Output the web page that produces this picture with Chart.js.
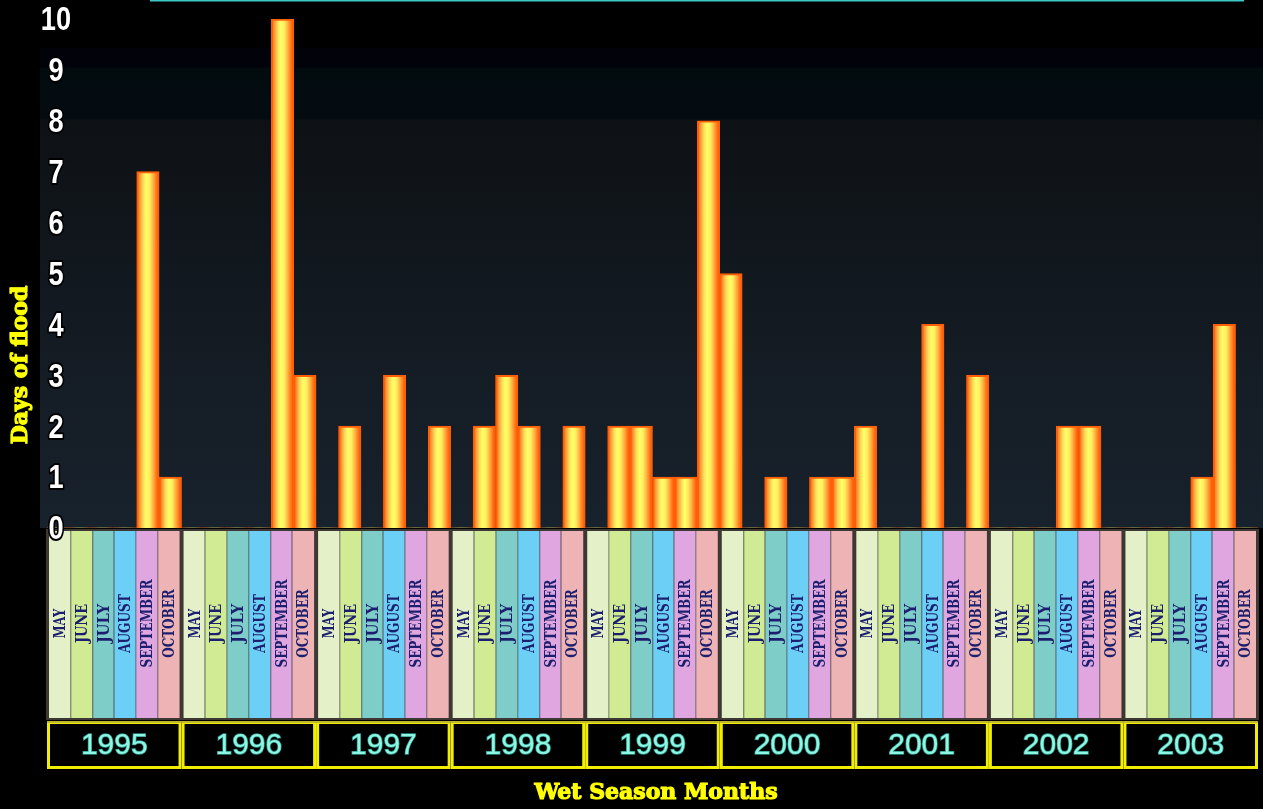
<!DOCTYPE html>
<html>
<head>
<meta charset="utf-8">
<title>Days of flood per wet season month, 1995–2003</title>
<script src="https://cdn.jsdelivr.net/npm/chart.js@4/dist/chart.umd.min.js"></script>
<style>
  html, body { margin: 0; padding: 0; background: #000; }
  #wrap { width: 1263px; height: 809px; }
  canvas { display: block; }
</style>
</head>
<body>
<div id="wrap"><canvas id="floods" width="1263" height="809"></canvas></div>
<script>
// Wet season months shown for every year
const months = ['MAY', 'JUNE', 'JULY', 'AUGUST', 'SEPTEMBER', 'OCTOBER'];
const years = ['1995', '1996', '1997', '1998', '1999', '2000', '2001', '2002', '2003'];

// Days of flood, one value per month (May..October)
const days1995 = [0, 0, 0, 0, 7, 1];
const days1996 = [0, 0, 0, 0, 10, 3];
const days1997 = [0, 2, 0, 3, 0, 2];
const days1998 = [0, 2, 3, 2, 0, 2];
const days1999 = [0, 2, 2, 1, 1, 8];
const days2000 = [5, 0, 1, 0, 1, 1];
const days2001 = [2, 0, 0, 4, 0, 3];
const days2002 = [0, 0, 0, 2, 2, 0];
const days2003 = [0, 0, 0, 1, 4, 0];

const yTickLabels = ['0', '1', '2', '3', '4', '5', '6', '7', '8', '9', '10'];

const monthColors = ['#e3f0c8', '#d0eb94', '#7ecdc8', '#6ccff6', '#e0a6e0', '#eeb3b5'];

const perYear = [days1995, days1996, days1997, days1998, days1999, days2000, days2001, days2002, days2003];
const labels = [];
years.forEach(y => months.forEach(m => labels.push(y + ' ' + m)));
const values = [].concat(...perYear);

const PLOT_BG_LEFT = 40;
const CELL_TOP = 529;
const CELL_BOTTOM = 720;
const YEAR_TOP = 721;
const YEAR_BOTTOM = 769;

function barGradient(context) {
  const chart = context.chart;
  const xs = chart.scales.x;
  if (!chart.chartArea || !xs) return '#ffb030';
  const w = xs.width / labels.length;
  const cx = xs.getPixelForValue(context.dataIndex);
  const g = chart.ctx.createLinearGradient(cx - w / 2, 0, cx + w / 2, 0);
  g.addColorStop(0.00, '#ff6200');
  g.addColorStop(0.12, '#ff9030');
  g.addColorStop(0.28, '#ffd858');
  g.addColorStop(0.42, '#ffff66');
  g.addColorStop(0.58, '#ffee60');
  g.addColorStop(0.74, '#ffb040');
  g.addColorStop(0.88, '#ff7418');
  g.addColorStop(1.00, '#ff5a00');
  return g;
}

// Dark banded backdrop behind the bars plus the thin cyan rule on top
const backdrop = {
  id: 'backdrop',
  beforeDraw(chart) {
    const ctx = chart.ctx;
    const area = chart.chartArea;
    ctx.save();
    ctx.fillStyle = '#000';
    ctx.fillRect(0, 0, chart.width, chart.height);
    const bottom = area.bottom;
    const g = ctx.createLinearGradient(0, 0, 0, bottom);
    g.addColorStop(0.000, '#000000');
    g.addColorStop(0.090, '#000000');
    g.addColorStop(0.092, '#02020b');
    g.addColorStop(0.127, '#02020b');
    g.addColorStop(0.129, '#020b0e');
    g.addColorStop(0.225, '#040c12');
    g.addColorStop(0.228, '#0e1114');
    g.addColorStop(0.45, '#10161c');
    g.addColorStop(0.75, '#151d26');
    g.addColorStop(1.000, '#18222c');
    ctx.fillStyle = g;
    ctx.fillRect(PLOT_BG_LEFT, 0, chart.width - PLOT_BG_LEFT, bottom);
    ctx.fillStyle = '#3cc8c8';
    ctx.fillRect(150, 0, 1094, 1.5);
    ctx.restore();
  }
};

function heavyText(ctx, txt, x, y, color) {
  ctx.fillStyle = color;
  ctx.strokeStyle = color;
  ctx.lineWidth = 1.2;
  ctx.lineJoin = 'round';
  ctx.strokeText(txt, x, y);
  ctx.fillText(txt, x, y);
}

// Month cells, year boxes, axis titles and y tick labels
const categoryBand = {
  id: 'categoryBand',
  afterDraw(chart) {
    const ctx = chart.ctx;
    const xs = chart.scales.x;
    const ys = chart.scales.y;
    const w = xs.width / labels.length;
    ctx.save();

    years.forEach((year, yi) => {
      const x0 = xs.getPixelForValue(yi * months.length) - w / 2;
      const x1 = x0 + w * months.length;

      // group frame
      ctx.fillStyle = '#3d3834';
      ctx.fillRect(x0 - 1, CELL_TOP, x1 - x0 + 2, CELL_BOTTOM - CELL_TOP);

      const innerL = x0 + 2, innerR = x1 - 2;
      const cw = (innerR - innerL) / months.length;
      months.forEach((m, mi) => {
        const cl = innerL + mi * cw;
        ctx.fillStyle = monthColors[mi];
        ctx.fillRect(cl, CELL_TOP + 2, cw, CELL_BOTTOM - CELL_TOP - 4);
        if (mi > 0) {
          ctx.fillStyle = 'rgba(70,70,70,0.45)';
          ctx.fillRect(Math.round(cl) - 1, CELL_TOP + 2, 1.5, CELL_BOTTOM - CELL_TOP - 4);
        }
        ctx.save();
        ctx.translate(cl + cw / 2 + 1, (CELL_TOP + CELL_BOTTOM) / 2 - 1);
        ctx.rotate(-Math.PI / 2);
        ctx.font = 'bold 16px "DejaVu Serif", serif';
        ctx.textAlign = 'center';
        ctx.textBaseline = 'middle';
        const tw = ctx.measureText(m).width;
        const target = m.length * 9.8;
        const sx = Math.min(1, target / tw);
        ctx.scale(sx, 1);
        ctx.fillStyle = '#1c1f6e';
        ctx.fillText(m, 0, 0);
        ctx.restore();
      });

      // year box
      ctx.fillStyle = '#000';
      ctx.fillRect(x0, YEAR_TOP, x1 - x0, YEAR_BOTTOM - YEAR_TOP);
      ctx.strokeStyle = '#f2ee00';
      ctx.lineWidth = 3;
      ctx.strokeRect(x0 + 1.5, YEAR_TOP + 1.5, x1 - x0 - 3, YEAR_BOTTOM - YEAR_TOP - 3);
      ctx.fillStyle = '#c2b830';
      ctx.fillRect(x0, YEAR_TOP, x1 - x0, 2);

      ctx.font = '30px "Liberation Sans", Arial, sans-serif';
      ctx.textAlign = 'center';
      ctx.textBaseline = 'middle';
      ctx.lineWidth = 1.5;
      ctx.strokeStyle = '#2a8f86';
      ctx.strokeText(year, (x0 + x1) / 2, (YEAR_TOP + YEAR_BOTTOM) / 2 + 1);
      ctx.fillStyle = '#8ef7e2';
      ctx.fillText(year, (x0 + x1) / 2, (YEAR_TOP + YEAR_BOTTOM) / 2 + 1);
    });

    // y tick labels
    ys.ticks.forEach((t, i) => {
      const y = ys.getPixelForTick(i);
      const txt = yTickLabels[i];
      ctx.save();
      ctx.translate(56, y + 2);
      ctx.scale(0.8, 1);
      ctx.font = 'bold 34px "Liberation Sans Narrow", "Liberation Sans", Arial, sans-serif';
      ctx.textAlign = 'center';
      ctx.textBaseline = 'middle';
      ctx.lineJoin = 'round';
      ctx.lineWidth = 4;
      ctx.strokeStyle = '#000';
      ctx.strokeText(txt, 0, 0);
      ctx.fillStyle = '#ffffff';
      ctx.fillText(txt, 0, 0);
      ctx.restore();
    });

    // axis titles
    ctx.font = 'bold 22px "DejaVu Serif", serif';
    ctx.textAlign = 'center';
    ctx.textBaseline = 'middle';
    heavyText(ctx, 'Wet Season Months', 656, 793, '#ffff00');

    ctx.save();
    ctx.translate(21, 365);
    ctx.rotate(-Math.PI / 2);
    ctx.font = 'bold 22px "DejaVu Serif", serif';
    ctx.textAlign = 'center';
    ctx.textBaseline = 'middle';
    heavyText(ctx, 'Days of flood', 0, 0, '#ffff00');
    ctx.restore();

    ctx.restore();
  }
};

new Chart(document.getElementById('floods'), {
  type: 'bar',
  data: {
    labels: labels,
    datasets: [{
      label: 'Days of flood',
      data: values,
      backgroundColor: barGradient,
      borderColor: '#ff5e08',
      borderWidth: (c) => (c.raw > 0 ? 2 : 0),
      borderSkipped: 'bottom',
      barPercentage: 1.0,
      categoryPercentage: 1.0
    }]
  },
  options: {
    responsive: false,
    animation: false,
    layout: { padding: { left: 47, right: 5, top: 19, bottom: 281 } },
    plugins: { legend: { display: false }, tooltip: { enabled: false } },
    scales: {
      x: { display: false, offset: true },
      y: {
        display: false,
        min: 0,
        max: 10,
        ticks: { stepSize: 1, callback: (v, i) => yTickLabels[i] }
      }
    }
  },
  plugins: [backdrop, categoryBand]
});
</script>
</body>
</html>
